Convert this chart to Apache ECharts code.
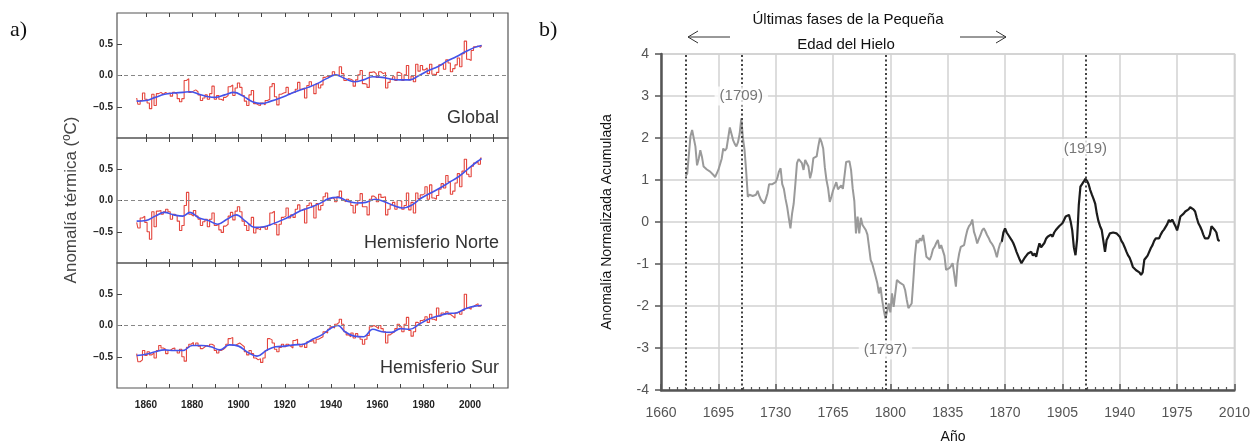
<!DOCTYPE html>
<html>
<head>
<meta charset="utf-8">
<script src="https://cdn.jsdelivr.net/npm/echarts@6/dist/echarts.min.js"></script>
<style>
  html, body { margin: 0; padding: 0; background: #fff; }
  #chart { width: 1253px; height: 446px; }
</style>
</head>
<body>
<div id="chart"></div>
<script>
// ---------- a) annual temperature anomalies (ºC), 1856-2005 ----------
const firstYear = 1856;
const globalAnnual = [
  -0.36,-0.46,-0.40,-0.28,-0.38,-0.44,-0.53,-0.30,-0.48,-0.29,
  -0.27,-0.30,-0.27,-0.29,-0.28,-0.33,-0.27,-0.30,-0.37,-0.42,
  -0.37,-0.08,-0.05,-0.27,-0.25,-0.23,-0.26,-0.31,-0.40,-0.36,
  -0.31,-0.38,-0.29,-0.17,-0.38,-0.32,-0.38,-0.40,-0.35,-0.32,
  -0.18,-0.15,-0.32,-0.20,-0.12,-0.19,-0.32,-0.41,-0.48,-0.31,
  -0.24,-0.45,-0.47,-0.48,-0.44,-0.47,-0.40,-0.38,-0.18,-0.13,
  -0.34,-0.47,-0.30,-0.28,-0.27,-0.19,-0.29,-0.27,-0.27,-0.22,
  -0.11,-0.22,-0.20,-0.36,-0.16,-0.10,-0.16,-0.29,-0.13,-0.20,
  -0.15,-0.03,-0.01,-0.02,0.01,0.06,0.00,0.00,0.14,0.03,
  -0.08,-0.05,-0.06,-0.08,-0.17,-0.07,0.01,0.08,-0.13,-0.14,
  -0.19,0.05,0.06,0.03,-0.03,0.06,0.03,0.05,-0.20,-0.11,
  -0.06,-0.02,-0.08,0.05,0.03,-0.08,0.01,0.16,-0.07,-0.01,
  -0.10,0.18,0.07,0.16,0.09,0.12,0.03,0.18,0.02,0.01,
  0.05,0.17,0.18,0.10,0.25,0.20,0.06,0.11,0.17,0.28,
  0.14,0.35,0.55,0.26,0.24,0.40,0.46,0.47,0.45,0.48
];
const nhAnnual = [
  -0.35,-0.44,-0.28,-0.25,-0.35,-0.50,-0.62,-0.18,-0.42,-0.17,
  -0.16,-0.22,-0.18,-0.14,-0.18,-0.30,-0.22,-0.25,-0.33,-0.48,
  -0.40,-0.08,0.13,-0.22,-0.25,-0.16,-0.25,-0.30,-0.40,-0.34,
  -0.30,-0.42,-0.30,-0.20,-0.40,-0.38,-0.47,-0.51,-0.41,-0.38,
  -0.25,-0.19,-0.31,-0.17,-0.10,-0.18,-0.33,-0.40,-0.48,-0.38,
  -0.27,-0.52,-0.45,-0.47,-0.43,-0.42,-0.46,-0.40,-0.20,-0.17,
  -0.38,-0.55,-0.38,-0.27,-0.25,-0.12,-0.28,-0.23,-0.27,-0.14,
  -0.07,-0.16,-0.13,-0.36,-0.08,-0.04,-0.09,-0.28,-0.05,-0.15,
  -0.08,0.06,0.12,0.02,0.05,0.02,-0.02,0.06,0.15,0.00,
  -0.02,0.02,-0.02,-0.08,-0.20,-0.07,0.00,0.11,-0.10,-0.10,
  -0.23,0.02,0.07,0.04,-0.02,0.10,0.05,0.06,-0.23,-0.14,
  -0.07,-0.03,-0.14,0.00,-0.01,-0.14,-0.08,0.12,-0.15,-0.03,
  -0.20,0.12,0.03,0.09,0.11,0.22,0.02,0.25,0.04,0.02,
  0.08,0.18,0.27,0.20,0.40,0.30,0.10,0.15,0.28,0.43,
  0.22,0.47,0.66,0.42,0.38,0.55,0.60,0.62,0.58,0.68
];
const shAnnual = [
  -0.45,-0.58,-0.55,-0.40,-0.48,-0.42,-0.47,-0.44,-0.52,-0.40,
  -0.32,-0.36,-0.38,-0.45,-0.40,-0.37,-0.36,-0.40,-0.44,-0.38,
  -0.50,-0.57,-0.35,-0.30,-0.27,-0.32,-0.28,-0.33,-0.37,-0.34,
  -0.32,-0.34,-0.30,-0.32,-0.40,-0.44,-0.40,-0.38,-0.35,-0.30,
  -0.21,-0.19,-0.32,-0.30,-0.28,-0.31,-0.34,-0.42,-0.47,-0.40,
  -0.45,-0.52,-0.55,-0.53,-0.59,-0.52,-0.40,-0.21,-0.23,-0.28,
  -0.38,-0.42,-0.35,-0.30,-0.34,-0.30,-0.33,-0.36,-0.24,-0.22,
  -0.30,-0.34,-0.30,-0.35,-0.26,-0.25,-0.24,-0.28,-0.22,-0.20,
  -0.18,-0.10,-0.12,-0.06,-0.02,-0.04,0.02,0.05,0.10,0.02,
  -0.10,-0.15,-0.18,-0.12,-0.20,-0.13,-0.18,-0.22,-0.30,-0.22,
  -0.16,-0.02,0.00,-0.02,-0.05,0.00,-0.05,-0.10,-0.28,-0.15,
  -0.12,-0.10,-0.05,0.02,-0.02,-0.10,0.02,0.13,-0.08,-0.17,
  -0.10,0.05,0.02,0.08,0.10,0.14,0.05,0.18,0.10,0.08,
  0.28,0.15,0.20,0.18,0.22,0.18,0.15,0.12,0.20,0.22,
  0.18,0.24,0.50,0.28,0.26,0.30,0.33,0.35,0.31,0.33
];

// smoothed curves (year, value)
const globalSmoothYears = [1856,1860,1864,1868,1872,1876,1879,1883,1887,1890,1894,1898,1902,1906,1910,1914,1918,1922,1926,1930,1934,1938,1942,1946,1950,1954,1958,1962,1966,1970,1974,1978,1982,1986,1990,1994,1998,2002,2005];
const globalSmooth = [-0.41,-0.40,-0.35,-0.30,-0.28,-0.27,-0.26,-0.30,-0.34,-0.35,-0.31,-0.27,-0.33,-0.42,-0.45,-0.41,-0.36,-0.30,-0.24,-0.19,-0.13,-0.05,0.01,-0.05,-0.10,-0.07,-0.02,-0.03,-0.06,-0.07,-0.07,0.00,0.08,0.14,0.23,0.30,0.38,0.45,0.48];
const nhSmoothYears = [1856,1860,1864,1868,1872,1876,1879,1883,1887,1891,1895,1899,1903,1907,1911,1915,1919,1923,1927,1931,1935,1939,1943,1947,1951,1955,1959,1963,1967,1971,1975,1979,1983,1987,1991,1995,1999,2003,2005];
const nhSmooth = [-0.33,-0.32,-0.25,-0.19,-0.23,-0.25,-0.19,-0.28,-0.32,-0.38,-0.30,-0.23,-0.33,-0.43,-0.42,-0.37,-0.31,-0.24,-0.16,-0.11,-0.05,0.03,0.05,-0.01,-0.04,-0.03,0.02,-0.02,-0.08,-0.12,-0.07,0.04,0.12,0.20,0.29,0.38,0.50,0.62,0.67];
const shSmoothYears = [1856,1860,1864,1868,1872,1876,1880,1884,1888,1892,1896,1900,1904,1908,1912,1916,1920,1924,1928,1932,1936,1940,1943,1946,1950,1954,1958,1962,1966,1970,1974,1978,1982,1986,1990,1994,1998,2002,2005];
const shSmooth = [-0.48,-0.46,-0.42,-0.39,-0.40,-0.40,-0.32,-0.32,-0.34,-0.39,-0.31,-0.33,-0.43,-0.49,-0.40,-0.34,-0.33,-0.31,-0.30,-0.22,-0.15,-0.04,0.00,-0.10,-0.17,-0.18,-0.06,-0.10,-0.11,-0.05,-0.06,0.02,0.10,0.15,0.19,0.20,0.27,0.31,0.32];

const panelNames = ['Global', 'Hemisferio Norte', 'Hemisferio Sur'];
const leftTickYears = [1860,1870,1880,1890,1900,1910,1920,1930,1940,1950,1960,1970,1980,1990,2000,2010];
const leftLabelYears = [1860,1880,1900,1920,1940,1960,1980,2000];
const leftValueTicks = [-0.5, 0, 0.5];

// ---------- b) cumulative normalised anomaly ----------
const grayYears = [1675,1676,1677,1678,1679,1680,1681,1682,1683,1684,1685,1686,1687,1688,1689,1690,1691,1692,1693,1694,1695,1696,1697,1698,1699,1700,1701,1702,1703,1704,1705,1706,1707,1708,1709,1710,1711,1712,1713,1714,1715,1716,1717,1718,1719,1720,1721,1722,1723,1724,1725,1726,1727,1728,1729,1730,1731,1732,1733,1734,1735,1736,1737,1738,1739,1740,1741,1742,1743,1744,1745,1746,1747,1748,1749,1750,1751,1752,1753,1754,1755,1756,1757,1758,1759,1760,1761,1762,1763,1764,1765,1766,1767,1768,1769,1770,1771,1772,1773,1774,1775,1776,1777,1778,1779,1780,1781,1782,1783,1784,1785,1786,1787,1788,1789,1790,1791,1792,1793,1794,1795,1796,1797,1798,1799,1800,1801,1802,1803,1804,1805,1806,1807,1808,1809,1810,1811,1812,1813,1814,1815,1816,1817,1818,1819,1820,1821,1822,1823,1824,1825,1826,1827,1828,1829,1830,1831,1832,1833,1834,1835,1836,1837,1838,1839,1840,1841,1842,1843,1844,1845,1846,1847,1848,1849,1850,1851,1852,1853,1854,1855,1856,1857,1858,1859,1860,1861,1862,1863,1864,1865,1866,1867,1868];
const grayValues = [1.10,1.15,1.60,2.05,2.19,2.18,1.80,1.35,1.50,1.71,1.55,1.32,1.30,1.25,1.28,1.20,1.18,1.12,1.07,1.10,1.24,1.20,1.50,1.75,1.70,1.75,2.00,2.25,2.10,1.95,1.86,1.80,1.90,2.10,2.47,2.00,1.71,1.20,0.60,0.65,0.68,0.62,0.58,0.65,0.74,0.62,0.53,0.50,0.44,0.55,0.68,0.90,0.92,0.90,0.92,0.95,1.05,1.20,1.28,0.90,0.79,0.55,0.36,0.10,-0.15,0.20,0.44,0.90,1.40,1.50,1.52,1.40,1.24,1.48,1.40,1.32,1.04,1.20,1.52,1.50,1.56,1.80,2.00,1.90,1.75,1.30,1.00,0.80,0.48,0.60,0.75,0.85,0.95,0.78,0.80,0.87,0.79,1.10,1.43,1.47,1.45,1.24,0.80,0.50,-0.27,0.13,-0.27,0.10,-0.07,-0.05,-0.19,-0.30,-0.60,-0.91,-1.00,-1.15,-1.30,-1.45,-1.70,-1.55,-1.86,-2.10,-2.30,-2.13,-1.94,-2.15,-1.70,-2.02,-1.70,-1.38,-1.40,-1.45,-1.42,-1.50,-1.62,-1.85,-2.05,-2.08,-1.94,-1.40,-0.80,-0.43,-0.50,-0.39,-0.45,-0.31,-0.55,-0.83,-0.85,-0.90,-0.80,-0.65,-0.59,-0.50,-0.43,-0.63,-0.55,-0.51,-0.80,-1.14,-1.12,-1.10,-1.05,-0.98,-1.25,-1.54,-0.98,-0.75,-0.59,-0.60,-0.55,-0.35,-0.19,-0.10,-0.05,0.06,-0.23,-0.35,-0.51,-0.40,-0.31,-0.20,-0.15,-0.22,-0.31,-0.38,-0.47,-0.52,-0.59,-0.70,-0.84,-0.65,-0.51,-0.47];
const blackYears = [1868,1869,1870,1871,1872,1873,1874,1875,1876,1877,1878,1879,1880,1881,1882,1883,1884,1885,1886,1887,1888,1889,1890,1891,1892,1893,1894,1895,1896,1897,1898,1899,1900,1901,1902,1903,1904,1905,1906,1907,1908,1909,1910,1911,1912,1913,1914,1915,1916,1917,1918,1919,1920,1921,1922,1923,1924,1925,1926,1927,1928,1929,1930,1931,1932,1933,1934,1935,1936,1937,1938,1939,1940,1941,1942,1943,1944,1945,1946,1947,1948,1949,1950,1951,1952,1953,1954,1955,1956,1957,1958,1959,1960,1961,1962,1963,1964,1965,1966,1967,1968,1969,1970,1971,1972,1973,1974,1975,1976,1977,1978,1979,1980,1981,1982,1983,1984,1985,1986,1987,1988,1989,1990,1991,1992,1993,1994,1995,1996,1997,1998,1999,2000,2001];
const blackValues = [-0.47,-0.25,-0.15,-0.25,-0.31,-0.28,-0.43,-0.50,-0.60,-0.71,-0.75,-0.90,-0.98,-1.00,-0.85,-0.80,-0.75,-0.78,-0.71,-0.80,-0.75,-0.83,-0.65,-0.51,-0.60,-0.63,-0.50,-0.40,-0.35,-0.38,-0.30,-0.35,-0.25,-0.19,-0.15,-0.10,-0.07,-0.03,0.05,0.13,0.10,0.17,0.02,-0.20,-0.60,-0.79,-0.40,0.40,0.84,0.90,0.96,1.03,0.98,0.90,0.76,0.65,0.55,0.44,0.20,0.02,-0.10,-0.19,-0.45,-0.71,-0.43,-0.35,-0.27,-0.28,-0.25,-0.23,-0.27,-0.31,-0.35,-0.45,-0.51,-0.60,-0.70,-0.79,-0.85,-0.95,-1.07,-1.05,-1.15,-1.12,-1.20,-1.26,-1.20,-0.90,-0.85,-0.80,-0.79,-0.62,-0.55,-0.45,-0.39,-0.42,-0.39,-0.30,-0.23,-0.18,-0.15,-0.05,0.05,0.00,0.06,0.02,-0.10,-0.20,-0.05,0.13,0.15,0.20,0.25,0.22,0.30,0.35,0.37,0.30,0.25,0.10,-0.03,-0.10,-0.19,-0.30,-0.39,-0.38,-0.39,-0.30,-0.10,-0.07,-0.19,-0.25,-0.43,-0.45];
const eventYears = [1675, 1709, 1797, 1919];
const eventLabels = ['(1709)', '(1797)', '(1919)'];
const eventLabelYears = [1709, 1797, 1919];
const eventLabelLevels = [3.0, -3.05, 1.75];
const baseYear = 1660;   // right x axis counts years from here

// ---------- option ----------
const leftMin = 1847.5, leftMax = 2016.4;
const panelTops = [13, 138, 263];
const annualSets = [globalAnnual, nhAnnual, shAnnual];
const smoothSets = [[globalSmoothYears, globalSmooth], [nhSmoothYears, nhSmooth], [shSmoothYears, shSmooth]];

const grids = panelTops.map(t => ({
  left: 117, top: t, width: 391, height: 125,
  show: true, borderColor: '#555', borderWidth: 1.2, backgroundColor: 'transparent'
}));
grids.push({ left: 661, top: 54, width: 574, height: 336, show: true, borderColor: '#cfcfcf', borderWidth: 1.5 });

const xAxes = [];
const yAxes = [];
const series = [];
const smallBold = { fontFamily: 'Liberation Sans, Arial, sans-serif', fontWeight: 'bold', fontSize: 10, color: '#222' };

panelTops.forEach((t, i) => {
  ['bottom', 'top'].forEach(pos => {
    xAxes.push({
      gridIndex: i, type: 'value', position: pos, min: leftMin, max: leftMax,
      axisLine: { show: false, onZero: false },
      axisTick: { show: true, inside: true, length: 4, customValues: leftTickYears, lineStyle: { color: '#444', width: 1 } },
      axisLabel: Object.assign({ show: i === 2 && pos === 'bottom', customValues: leftLabelYears, margin: 12, formatter: v => String(v) }, smallBold),
      splitLine: { show: false }
    });
  });
  yAxes.push({
    gridIndex: i, type: 'value', min: -1, max: 1,
    axisLine: { show: false },
    axisTick: { show: true, inside: true, length: 5, customValues: leftValueTicks, lineStyle: { color: '#444' } },
    axisLabel: Object.assign({
      customValues: leftValueTicks, margin: 4,
      formatter: v => v === 0 ? '0.0' : (v < 0 ? '\u2212' + Math.abs(v).toFixed(1) : v.toFixed(1))
    }, smallBold),
    splitLine: { show: false }
  });

  series.push({
    type: 'line', xAxisIndex: 2 * i, yAxisIndex: i, step: 'middle', showSymbol: false, z: 2,
    data: annualSets[i].map((v, k) => [firstYear + k, v]),
    lineStyle: { color: '#e4463e', width: 1.1 },
    markLine: {
      silent: true, symbol: ['none', 'none'], label: { show: false },
      lineStyle: { color: '#888', type: [4, 3], width: 1.2 },
      data: [{ yAxis: 0 }]
    }
  });
  series.push({
    type: 'line', xAxisIndex: 2 * i, yAxisIndex: i, smooth: 0.4, showSymbol: false, z: 3,
    data: smoothSets[i][0].map((y, k) => [y, smoothSets[i][1][k]]),
    lineStyle: { color: '#4353ea', width: 1.6 }
  });
});

// right panel axes
xAxes.push({
  gridIndex: 3, type: 'value', min: 0, max: 350, interval: 35,
  axisLine: { onZero: false, lineStyle: { color: '#555', width: 2.5 } },
  axisTick: { show: true, inside: true, length: 6, lineStyle: { color: '#555', width: 1.5 } },
  minorTick: { show: true, splitNumber: 7, length: 3, lineStyle: { color: '#555', width: 1.2 } },
  axisLabel: { formatter: v => String(v + baseYear), color: '#555', fontSize: 14, margin: 16, fontFamily: 'Liberation Sans, Arial, sans-serif' },
  splitLine: { show: true, lineStyle: { color: '#d2d2d2', width: 1.5 } }
});
yAxes.push({
  gridIndex: 3, type: 'value', min: -4, max: 4, interval: 1,
  axisLine: { show: true, onZero: false, lineStyle: { color: '#555', width: 2.5 } },
  axisTick: { show: true, length: 6, lineStyle: { color: '#555', width: 1.5 } },
  axisLabel: { color: '#555', fontSize: 14, margin: 12, fontFamily: 'Liberation Sans, Arial, sans-serif' },
  splitLine: { show: true, lineStyle: { color: '#d2d2d2', width: 1.5 } }
});

const rX = 6, rY = 3;
series.push({
  type: 'line', xAxisIndex: rX, yAxisIndex: rY, showSymbol: false, z: 3,
  data: grayYears.map((y, k) => [y - baseYear, grayValues[k]]),
  lineStyle: { color: '#9a9a9a', width: 2 },
  markLine: {
    silent: true, symbol: ['none', 'none'], label: { show: false },
    lineStyle: { color: '#444', type: [2, 2.5], width: 2 },
    data: eventYears.map(y => ({ xAxis: y - baseYear }))
  }
});
series.push({
  type: 'line', xAxisIndex: rX, yAxisIndex: rY, showSymbol: false, z: 3,
  data: blackYears.map((y, k) => [y - baseYear, blackValues[k]]),
  lineStyle: { color: '#1c1c1c', width: 2.2 }
});
series.push({
  type: 'scatter', xAxisIndex: rX, yAxisIndex: rY, z: 6, symbolSize: 1,
  itemStyle: { color: 'rgba(0,0,0,0)' },
  data: eventLabelYears.map((y, k) => [y - baseYear, eventLabelLevels[k], eventLabels[k]]),
  label: {
    show: true, position: 'inside', formatter: p => p.data[2],
    color: '#555', fontSize: 15, fontFamily: 'Liberation Sans, Arial, sans-serif',
    backgroundColor: '#fff', padding: [2, 5]
  }
});

// text and annotation layer
const sans = 'Liberation Sans, Arial, sans-serif';
const graphic = [
  { type: 'text', x: 10, y: 30, style: { text: 'a)', font: '22px "Liberation Serif", "Times New Roman", serif', fill: '#111', textVerticalAlign: 'middle' } },
  { type: 'text', x: 539, y: 30, style: { text: 'b)', font: '22px "Liberation Serif", "Times New Roman", serif', fill: '#111', textVerticalAlign: 'middle' } },
  { type: 'text', x: 71, y: 200, rotation: Math.PI / 2, style: { text: 'Anomalía térmica (ºC)', font: '17px ' + sans, fill: '#444', textAlign: 'center', textVerticalAlign: 'middle' } },
  { type: 'text', x: 607, y: 222, rotation: Math.PI / 2, style: { text: 'Anomalía Normalizada Acumulada', font: '14px ' + sans, fill: '#111', textAlign: 'center', textVerticalAlign: 'middle' } },
  { type: 'text', x: 953, y: 437, style: { text: 'Año', font: '14px ' + sans, fill: '#111', textAlign: 'center', textVerticalAlign: 'middle' } },
  { type: 'text', x: 848, y: 20, style: { text: 'Últimas fases de la Pequeña', font: '15px ' + sans, fill: '#111', textAlign: 'center', textVerticalAlign: 'middle' } },
  { type: 'text', x: 846, y: 45, style: { text: 'Edad del Hielo', font: '15px ' + sans, fill: '#111', textAlign: 'center', textVerticalAlign: 'middle' } },
  { type: 'polyline', shape: { points: [[730, 37], [688, 37]] }, style: { stroke: '#333', lineWidth: 1, fill: null } },
  { type: 'polyline', shape: { points: [[698, 31], [688, 37], [698, 43]] }, style: { stroke: '#333', lineWidth: 1, fill: null } },
  { type: 'polyline', shape: { points: [[960, 37], [1006, 37]] }, style: { stroke: '#333', lineWidth: 1, fill: null } },
  { type: 'polyline', shape: { points: [[996, 31], [1006, 37], [996, 43]] }, style: { stroke: '#333', lineWidth: 1, fill: null } }
];
panelNames.forEach((name, i) => {
  graphic.push({ type: 'text', x: 499, y: panelTops[i] + 105, style: { text: name, font: '18px ' + sans, fill: '#333', textAlign: 'right', textVerticalAlign: 'middle' } });
});

const chart = echarts.init(document.getElementById('chart'), null, { renderer: 'canvas' });
chart.setOption({
  animation: false,
  backgroundColor: '#fff',
  grid: grids,
  xAxis: xAxes,
  yAxis: yAxes,
  series: series,
  graphic: graphic
});
</script>
</body>
</html>
